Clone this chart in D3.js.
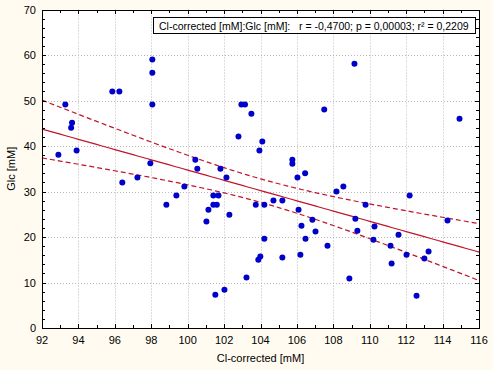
<!DOCTYPE html>
<html>
<head>
<meta charset="utf-8">
<script src="https://cdn.jsdelivr.net/npm/d3@7"></script>
<style>
  html, body { margin: 0; padding: 0; background: #fffbf0; }
  svg { display: block; font-family: "Liberation Sans", Arial, sans-serif; }
</style>
</head>
<body>
<svg id="chart"></svg>
<script>
// Cl-corrected [mM]
const clValues = [
  92.9, 93.28, 93.65, 93.6, 93.9, 95.86, 96.25, 98.06, 98.06, 98.06,
  97.95, 96.41, 97.24, 99.82, 100.42, 100.53, 101.8, 102.13, 102.79, 102.95,
  103.15, 103.5, 104.1, 103.94, 105.75, 105.75, 106.03, 106.45, 107.5, 109.16,
  114.93, 108.55, 98.83, 99.38, 101.41, 101.69, 101.41, 101.6, 101.14, 101.03,
  102.29, 103.23, 102.02, 101.52, 103.74, 104.21, 104.71, 105.2, 106.09, 106.25,
  106.85, 107.02, 104.21, 106.47, 107.68, 105.2, 106.19, 103.99, 103.88, 108.17,
  109.77, 109.21, 109.32, 110.26, 110.2, 111.14, 111.58, 111.2, 112.19, 112.02,
  113.0, 113.23, 114.27, 108.88, 112.57
];
// Glc [mM]
const glcValues = [
  38.1, 49.1, 45.1, 44.0, 39.0, 52.0, 52.0, 59.0, 56.1, 49.1,
  36.2, 32.0, 33.1, 31.1, 37.0, 35.0, 35.0, 33.1, 42.1, 49.1,
  49.1, 47.1, 41.0, 39.0, 37.0, 36.1, 33.1, 34.0, 48.0, 58.1,
  46.0, 31.1, 27.1, 29.1, 29.1, 29.1, 27.1, 27.1, 26.0, 23.4,
  24.9, 11.1, 8.4, 7.3, 27.1, 27.1, 28.0, 28.0, 26.0, 22.5,
  23.8, 21.2, 19.6, 19.6, 18.1, 15.5, 16.1, 15.7, 15.0, 30.0,
  27.1, 24.0, 21.4, 22.3, 19.4, 18.1, 20.5, 14.2, 29.1, 16.1,
  15.3, 16.8, 23.6, 10.9, 7.1
];
const xTicks = [92, 94, 96, 98, 100, 102, 104, 106, 108, 110, 112, 114, 116];
const yTicks = [0, 10, 20, 30, 40, 50, 60, 70];
const legendText = "Cl-corrected [mM]:Glc [mM]:   r = -0,4700; p = 0,00003; r\u00B2 = 0,2209";
const tCrit = 1.993; // t(0.975, n-2)

const width = 493, height = 370;
const margin = { top: 9.5, right: 14, bottom: 42, left: 42 };

const svg = d3.select("#chart").attr("width", width).attr("height", height);

const x = d3.scaleLinear().domain([92, 116]).range([margin.left, width - margin.right]);
const y = d3.scaleLinear().domain([0, 70]).range([height - margin.bottom, margin.top]);

// plot area
svg.append("rect")
  .attr("x", x(92)).attr("y", y(70))
  .attr("width", x(116) - x(92)).attr("height", y(0) - y(70))
  .attr("fill", "#fff");

// grid
const grid = svg.append("g").attr("stroke", "#b8b8b8").attr("stroke-dasharray", "1,2");
grid.selectAll(".gx").data(xTicks.slice(1, -1)).join("line")
  .attr("x1", d => Math.round(x(d)) + 0.5).attr("x2", d => Math.round(x(d)) + 0.5)
  .attr("y1", y(70)).attr("y2", y(0));
grid.selectAll(".gy").data(yTicks.slice(1, -1)).join("line")
  .attr("y1", d => Math.round(y(d)) + 0.5).attr("y2", d => Math.round(y(d)) + 0.5)
  .attr("x1", x(92)).attr("x2", x(116));

// regression + 95% confidence band
const n = clValues.length;
const mx = d3.mean(clValues), my = d3.mean(glcValues);
const sxx = d3.sum(clValues, v => (v - mx) ** 2);
const sxy = d3.sum(clValues, (v, i) => (v - mx) * (glcValues[i] - my));
const slope = sxy / sxx, intercept = my - slope * mx;
const sse = d3.sum(clValues, (v, i) => (glcValues[i] - (intercept + slope * v)) ** 2);
const se = Math.sqrt(sse / (n - 2));
const xs = d3.range(92, 116.01, 0.25);
const fit = v => intercept + slope * v;
const half = v => tCrit * se * Math.sqrt(1 / n + (v - mx) ** 2 / sxx);

const line = d3.line().x(d => x(d[0])).y(d => y(d[1]));
const lineColor = "#c0142c";
svg.append("path").attr("d", line(xs.map(v => [v, fit(v)])))
  .attr("fill", "none").attr("stroke", lineColor).attr("stroke-width", 1.2);
svg.append("path").attr("d", line(xs.map(v => [v, fit(v) + half(v)])))
  .attr("fill", "none").attr("stroke", lineColor).attr("stroke-width", 1.2).attr("stroke-dasharray", "5,3");
svg.append("path").attr("d", line(xs.map(v => [v, fit(v) - half(v)])))
  .attr("fill", "none").attr("stroke", lineColor).attr("stroke-width", 1.2).attr("stroke-dasharray", "5,3");

// points
svg.append("g").selectAll("circle").data(clValues).join("circle")
  .attr("cx", d => x(d))
  .attr("cy", (d, i) => y(glcValues[i]))
  .attr("r", 3)
  .attr("fill", "#0000cc");

// axes (ticks pointing inside)
const minorX = d3.range(92, 116.01, 1);
const minorY = d3.range(0, 70.01, 2);
const axG = svg.append("g").attr("stroke", "#000").attr("shape-rendering", "crispEdges");
function tickLines(vals, len, sideFn) {
  vals.forEach(v => sideFn(v, len));
}
// bottom + top
tickLines(minorX, 3, (v, l) => {
  const px = Math.round(x(v)) + 0.5;
  const major = xTicks.includes(v);
  const L = major ? 4 : l;
  axG.append("line").attr("x1", px).attr("x2", px).attr("y1", y(0)).attr("y2", y(0) - L);
  axG.append("line").attr("x1", px).attr("x2", px).attr("y1", y(70)).attr("y2", y(70) + L);
});
// left + right
tickLines(minorY, 3, (v, l) => {
  const py = Math.round(y(v)) + 0.5;
  const major = yTicks.includes(v);
  const L = major ? 4 : l;
  axG.append("line").attr("y1", py).attr("y2", py).attr("x1", x(92)).attr("x2", x(92) + L);
  axG.append("line").attr("y1", py).attr("y2", py).attr("x1", x(116)).attr("x2", x(116) - L);
});

// frame
svg.append("rect")
  .attr("x", Math.round(x(92)) + 0.5).attr("y", Math.round(y(70)) + 0.5)
  .attr("width", Math.round(x(116)) - Math.round(x(92))).attr("height", Math.round(y(0)) - Math.round(y(70)))
  .attr("fill", "none").attr("stroke", "#000");

// tick labels
svg.append("g").selectAll("text").data(xTicks).join("text")
  .attr("x", d => x(d)).attr("y", y(0) + 16)
  .attr("text-anchor", "middle").attr("font-size", 11).attr("fill", "#000")
  .text(d => d);
svg.append("g").selectAll("text").data(yTicks).join("text")
  .attr("x", x(92) - 6).attr("y", d => y(d) + 4)
  .attr("text-anchor", "end").attr("font-size", 11).attr("fill", "#000")
  .text(d => d);

// axis titles
svg.append("text")
  .attr("x", (x(92) + x(116)) / 2).attr("y", 362)
  .attr("text-anchor", "middle").attr("font-size", 11)
  .text("Cl-corrected [mM]");
svg.append("text")
  .attr("transform", `translate(15,${(y(0) + y(70)) / 2}) rotate(-90)`)
  .attr("text-anchor", "middle").attr("font-size", 11)
  .text("Glc [mM]");

// legend box
const lg = svg.append("g");
lg.append("rect")
  .attr("x", 153.5).attr("y", 17.5).attr("width", 322).attr("height", 16)
  .attr("fill", "#fff").attr("stroke", "#000");
lg.append("text")
  .attr("x", 159).attr("y", 29.5)
  .attr("font-size", 10.5).attr("xml:space", "preserve")
  .style("white-space", "pre")
  .text(legendText);
</script>
</body>
</html>
